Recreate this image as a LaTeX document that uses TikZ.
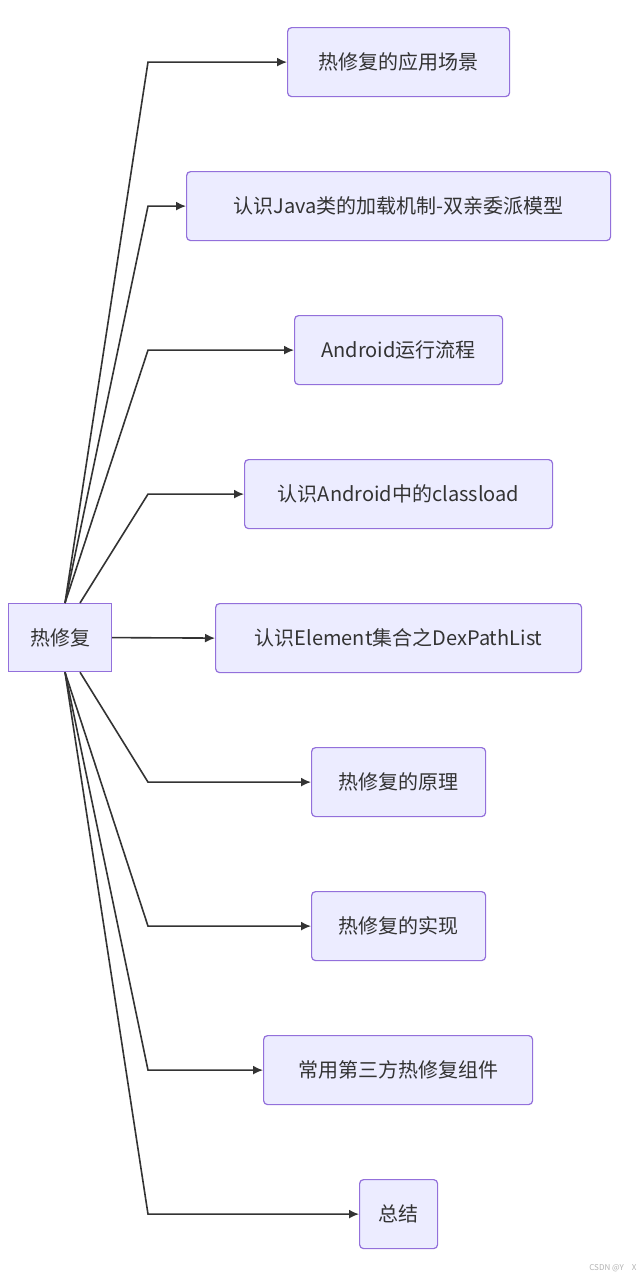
\documentclass[tikz,border=0pt]{standalone}
\usepackage{fontspec}
\setmainfont{Noto Sans CJK SC}
\usetikzlibrary{arrows.meta,calc}
\definecolor{nfill}{HTML}{ECECFF}
\definecolor{nline}{HTML}{9370DB}
\definecolor{ink}{HTML}{333333}
\begin{document}
\begin{tikzpicture}[x=1pt,y=-1pt,
  box/.style={draw=nline,fill=nfill,line width=1.2pt,rounded corners=4pt,text=ink,font=\fontsize{20}{24}\selectfont,anchor=north west,inner sep=0pt},
  link/.style={draw=ink,line width=1.6pt,-{Latex[length=10pt,width=9pt]}}]
\useasboundingbox (0,0) rectangle (644,1280);
\fill[white] (0,0) rectangle (644,1280);
\newcommand{\bx}[6]{\node[box,minimum width=#4-#2,minimum height=#5-#3] (#1) at (#2,#3) {#6};}
\node[draw=nline,fill=nfill,line width=1.2pt,text=ink,font=\fontsize{20}{24}\selectfont,inner sep=0pt,minimum width=103,minimum height=68,anchor=north west] (hub) at (8,603) {热修复};
\bx{n1}{287}{27}{509}{96}{热修复的应用场景}
\bx{n2}{186}{171}{610}{240}{认识Java类的加载机制-双亲委派模型}
\bx{n3}{294}{315}{502}{384}{Android运行流程}
\bx{n4}{244}{459}{552}{528}{认识Android中的classload}
\bx{n5}{215}{603}{581}{672}{认识Element集合之DexPathList}
\bx{n6}{311}{747}{485}{816}{热修复的原理}
\bx{n7}{311}{891}{485}{960}{热修复的实现}
\bx{n8}{263}{1035}{532}{1104}{常用第三方热修复组件}
\bx{n9}{359}{1179}{437}{1248}{总结}
\foreach \n/\dx in {n1/57,n2/57,n3/57,n4/72}
  \draw[link] ($(hub.north west)+(\dx,0)$) -- (148,0 |- \n.west) -- (\n.west);
\foreach \n/\dx in {n6/72,n7/57,n8/57,n9/57}
  \draw[link] ($(hub.south west)+(\dx,0)$) -- (148,0 |- \n.west) -- (\n.west);
\draw[link] (hub.east) -- (n5.west);
\node[text=gray!60,font=\fontsize{8}{9}\selectfont,anchor=east] (wm) at (640,1268) {CSDN @Y\quad X};
\end{tikzpicture}
\end{document}
